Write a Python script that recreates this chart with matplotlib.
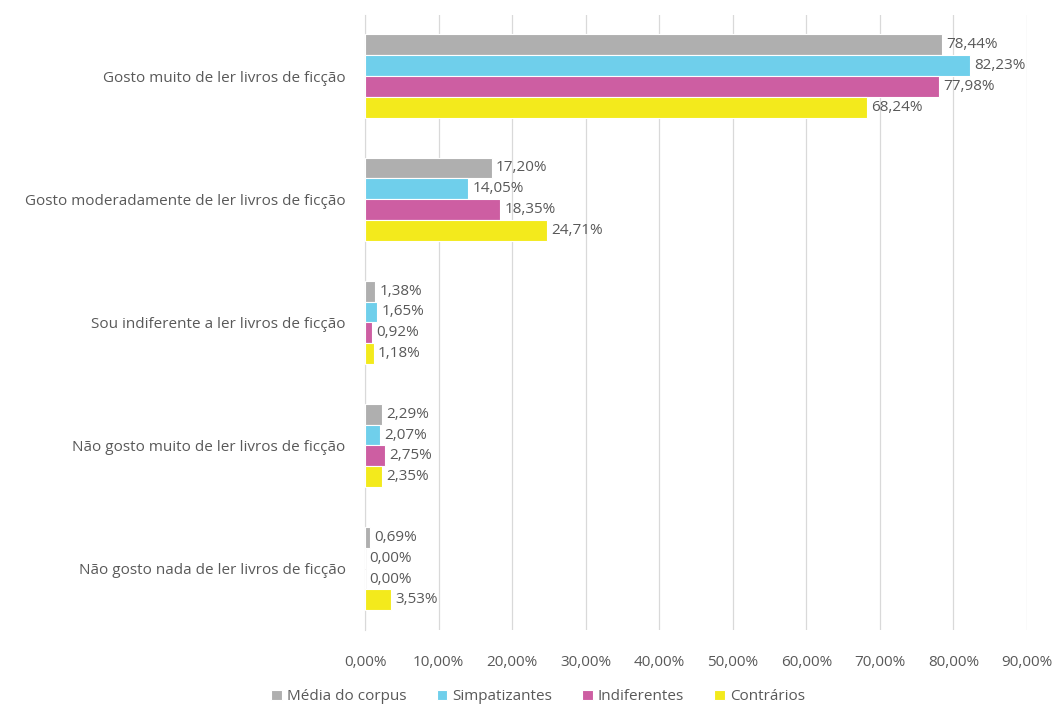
import numpy as np
import matplotlib.pyplot as plt

categories = [
    "Gosto muito de ler livros de ficção",
    "Gosto moderadamente de ler livros de ficção",
    "Sou indiferente a ler livros de ficção",
    "Não gosto muito de ler livros de ficção",
    "Não gosto nada de ler livros de ficção",
]
series_names = ["Média do corpus", "Simpatizantes", "Indiferentes", "Contrários"]
media = [78.44, 17.20, 1.38, 2.29, 0.69]
simpatizantes = [82.23, 14.05, 1.65, 2.07, 0.00]
indiferentes = [77.98, 18.35, 0.92, 2.75, 0.00]
contrarios = [68.24, 24.71, 1.18, 2.35, 3.53]
colors = ["#afafaf", "#6fcfeb", "#cd5ea2", "#f3ea1c"]
x_ticks = [0, 10, 20, 30, 40, 50, 60, 70, 80, 90]

plt.rcParams['font.family'] = ['Open Sans', 'DejaVu Sans']
text_color = "#595959"
fs = 11

fig = plt.figure(figsize=(10.55, 7.04), dpi=100)
ax = fig.add_axes([0.346, 0.105, 0.6275, 0.874])

all_series = [media, simpatizantes, indiferentes, contrarios]
y = np.arange(len(categories))
h = 0.17
for i, (vals, name, c) in enumerate(zip(all_series, series_names, colors)):
    pos = y + (i - 1.5) * h
    ax.barh(pos, vals, height=h, color=c, edgecolor="white", linewidth=0.8, label=name, zorder=3)
    for p, v in zip(pos, vals):
        ax.text(v + 0.6, p, f"{v:.2f}%".replace(".", ","), va="center", ha="left",
                fontsize=fs, color=text_color, zorder=4)

ax.set_xlim(0, 90)
ax.set_ylim(len(categories) - 0.5, -0.5)
ax.set_xticks(x_ticks)
ax.set_xticklabels([f"{t:.2f}%".replace(".", ",") for t in x_ticks], fontsize=fs, color=text_color)
ax.set_yticks(y)
ax.set_yticklabels(categories, fontsize=fs, color=text_color)
ax.tick_params(axis='y', length=0, pad=14)
ax.tick_params(axis='x', length=0, pad=18)
ax.grid(axis='x', color="#d9d9d9", linewidth=0.9, zorder=0)
for s in ["top", "right", "bottom"]:
    ax.spines[s].set_visible(False)
ax.spines["left"].set_color("#d9d9d9")

leg = fig.legend(loc="lower center", bbox_to_anchor=(0.51, -0.02), ncol=4, frameon=False,
                 fontsize=fs, handlelength=0.7, handleheight=0.7, handletextpad=0.3,
                 columnspacing=2.0)
for t in leg.get_texts():
    t.set_color(text_color)

fig.savefig("out.png", dpi=100)
